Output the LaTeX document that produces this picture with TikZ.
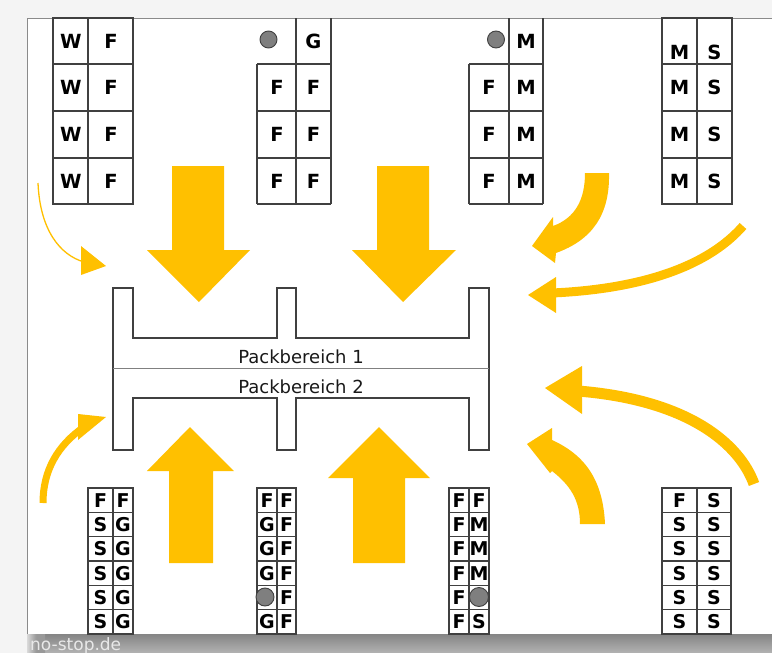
\documentclass[tikz,border=0pt]{standalone}
\usepackage{fontspec}
\setmainfont{DejaVu Sans}
\definecolor{gold}{HTML}{FFC000}
\definecolor{gridc}{HTML}{404040}
\definecolor{dotc}{HTML}{7F7F7F}
\definecolor{pagebg}{HTML}{F4F4F4}
\definecolor{framec}{HTML}{8A8A8A}
\definecolor{wmc}{HTML}{E8E8E8}
\newcommand\cellfont{\fontsize{19.5}{20}\selectfont\bfseries}
\newcommand\smallcellfont{\fontsize{19}{20}\selectfont\bfseries}
\begin{document}
\begin{tikzpicture}[x=1pt,y=-1pt,
 cellline/.style={draw=gridc,line width=1.2pt},
 lt/.style={font=\cellfont,inner sep=0pt,text=black},
 slt/.style={font=\smallcellfont,inner sep=0pt,text=black},
 dotst/.style={circle,fill=dotc,draw=gridc,line width=0.9pt,inner sep=0pt},
 goldfill/.style={fill=gold,draw=none},
 goldline/.style={draw=gold},
 packtxt/.style={font=\fontsize{18}{20}\selectfont,inner sep=0pt,anchor=base,text=black!90}]
\useasboundingbox (0,0) rectangle (772,653);
% page
\fill[pagebg] (0,0) rectangle (772,653);
\fill[white] (27,18) rectangle (772,634);
\draw[framec,line width=1pt] (27,634) -- (27,18) -- (772,18);
\shade[top color=black!48,bottom color=black!30] (27,634) rectangle (772,653);
\shade[left color=black!15,right color=black!40,middle color=black!40] (27,634) rectangle (45,653);
\node[font=\fontsize{17}{17}\selectfont,text=wmc,anchor=base west,inner sep=0pt] (wm) at (30,650) {no-stop.de};

% straight arrows
\fill[goldfill] (172,166) -- (224,166) -- (224,250) -- (250,250) -- (199,302) -- (147,250) -- (172,250) -- cycle;
\fill[goldfill] (377,166) -- (429,166) -- (429,250) -- (456,250) -- (403,302) -- (352,250) -- (377,250) -- cycle;
\fill[goldfill] (169,563) -- (213,563) -- (213,471) -- (234,471) -- (190,427) -- (147,471) -- (169,471) -- cycle;
\fill[goldfill] (353,563) -- (405,563) -- (405,478) -- (430,478) -- (379,427) -- (328,478) -- (353,478) -- cycle;

% curved arrows
\draw[goldline,line width=1.3pt] (38,183) .. controls (40,230) and (60,255) .. (84,262);
\fill[goldfill] (81,246) -- (106,266) -- (81,275) -- cycle;
\draw[goldline,line width=7pt] (43,503) .. controls (43,470) and (58,445) .. (84,427);
\fill[goldfill] (78,414) -- (106,417) -- (78,440) -- cycle;
\fill[goldfill] (609,173) .. controls (610,215) and (592,240) .. (556,253) -- (555,263) -- (532,246) -- (553,217) -- (553,226) .. controls (575,218) and (585,200) .. (585,173) -- cycle;
\draw[goldline,line width=9pt] (743,226) .. controls (700,275) and (620,290) .. (552,293);
\fill[goldfill] (556,277) -- (528,295) -- (556,313) -- cycle;
\draw[goldline,line width=11pt] (754,484) .. controls (740,445) and (690,400) .. (578,391);
\fill[goldfill] (582,366) -- (545,388) -- (582,414) -- cycle;
\fill[goldfill] (605,524) .. controls (603,480) and (585,455) .. (552,440) -- (552,428) -- (527,444) -- (550,473) -- (552,471) .. controls (570,485) and (580,500) .. (580,524) -- cycle;

% packing area
\draw[draw=gridc,line width=1.2pt] (113,288) -- (133,288) -- (133,338) -- (277,338) -- (277,288) -- (296,288) -- (296,338) -- (469,338) -- (469,288) -- (489,288) -- (489,450) -- (469,450) -- (469,398) -- (296,398) -- (296,450) -- (277,450) -- (277,398) -- (133,398) -- (133,450) -- (113,450) -- cycle;
\draw[draw=gray,line width=0.8pt] (113,368) -- (489,368);
\node[packtxt] (pb1) at (301,363) {Packbereich 1};
\node[packtxt] (pb2) at (301,393) {Packbereich 2};

% top group 1
\draw[cellline] (53,18) rectangle (133,204) (88,18) -- (88,204) (53,64) -- (133,64) (53,111) -- (133,111) (53,158) -- (133,158);
\foreach \y [count=\i] in {41,87.5,134.5,181} {\node[lt] (wa\i) at (71,\y) {W}; \node[lt] (fa\i) at (111,\y) {F};}
% top group 2
\draw[cellline] (296,18) -- (296,204) (331,18) -- (331,204) (257,64) -- (257,204) (257,64) -- (331,64) (257,111) -- (331,111) (257,158) -- (331,158) (257,204) -- (331,204);
\node[dotst,minimum size=17pt] (d1) at (268.5,39.5) {};
\node[lt] (g1) at (313.5,41) {G};
\foreach \y [count=\i] in {87.5,134.5,181} {\node[lt] (fb\i) at (277,\y) {F}; \node[lt] (fc\i) at (313.5,\y) {F};}
% top group 3
\draw[cellline] (509,18) -- (509,204) (543,18) -- (543,204) (469,64) -- (469,204) (469,64) -- (543,64) (469,111) -- (543,111) (469,158) -- (543,158) (469,204) -- (543,204);
\node[dotst,minimum size=17pt] (d2) at (496,39.5) {};
\node[lt] (m1) at (526,41) {M};
\foreach \y [count=\i] in {87.5,134.5,181} {\node[lt] (fd\i) at (489,\y) {F}; \node[lt] (md\i) at (526,\y) {M};}
% top group 4
\draw[cellline] (662,18) rectangle (732,204) (697,18) -- (697,204) (662,64) -- (732,64) (662,111) -- (732,111) (662,158) -- (732,158);
\foreach \y [count=\i] in {52,87.5,134.5,181} {\node[lt] (me\i) at (679.5,\y) {M}; \node[lt] (se\i) at (714.5,\y) {S};}

% bottom group 1
\draw[cellline] (88,488) rectangle (133,634) (113,488) -- (113,634);
\foreach \k in {1,...,5} \draw[cellline] (88,{488+24.33*\k}) -- (133,{488+24.33*\k});
\foreach \l/\r [count=\i] in {F/F,S/G,S/G,S/G,S/G,S/G} {\node[slt] (bal\i) at (100.5,{500.2+24.33*(\i-1)}) {\l}; \node[slt] (bar\i) at (123,{500.2+24.33*(\i-1)}) {\r};}
% bottom group 2
\draw[cellline] (257,488) rectangle (296,634) (277,488) -- (277,634);
\foreach \k in {1,...,5} \draw[cellline] (257,{488+24.33*\k}) -- (296,{488+24.33*\k});
\foreach \l/\r/\i in {F/F/1,G/F/2,G/F/3,G/F/4,G/F/6} {\node[slt] (bbl\i) at (267,{500.2+24.33*(\i-1)}) {\l}; \node[slt] (bbr\i) at (286.5,{500.2+24.33*(\i-1)}) {\r};}
\node[slt] (bbr5) at (286.5,597.5) {F};
\node[dotst,minimum size=18pt] (d3) at (265,597) {};
% bottom group 3
\draw[cellline] (449,488) rectangle (489,634) (469,488) -- (469,634);
\foreach \k in {1,...,5} \draw[cellline] (449,{488+24.33*\k}) -- (489,{488+24.33*\k});
\foreach \l/\r/\i in {F/F/1,F/M/2,F/M/3,F/M/4,F/S/6} {\node[slt] (bcl\i) at (459,{500.2+24.33*(\i-1)}) {\l}; \node[slt] (bcr\i) at (479,{500.2+24.33*(\i-1)}) {\r};}
\node[slt] (bcl5) at (459,597.5) {F};
\node[dotst,minimum size=19pt] (d4) at (479,597) {};
% bottom group 4
\draw[cellline] (662,488) rectangle (731,634) (697,488) -- (697,634);
\foreach \k in {1,...,5} \draw[cellline] (662,{488+24.33*\k}) -- (731,{488+24.33*\k});
\foreach \l/\r [count=\i] in {F/S,S/S,S/S,S/S,S/S,S/S} {\node[slt] (bdl\i) at (679.5,{500.2+24.33*(\i-1)}) {\l}; \node[slt] (bdr\i) at (714,{500.2+24.33*(\i-1)}) {\r};}
\end{tikzpicture}
\end{document}
